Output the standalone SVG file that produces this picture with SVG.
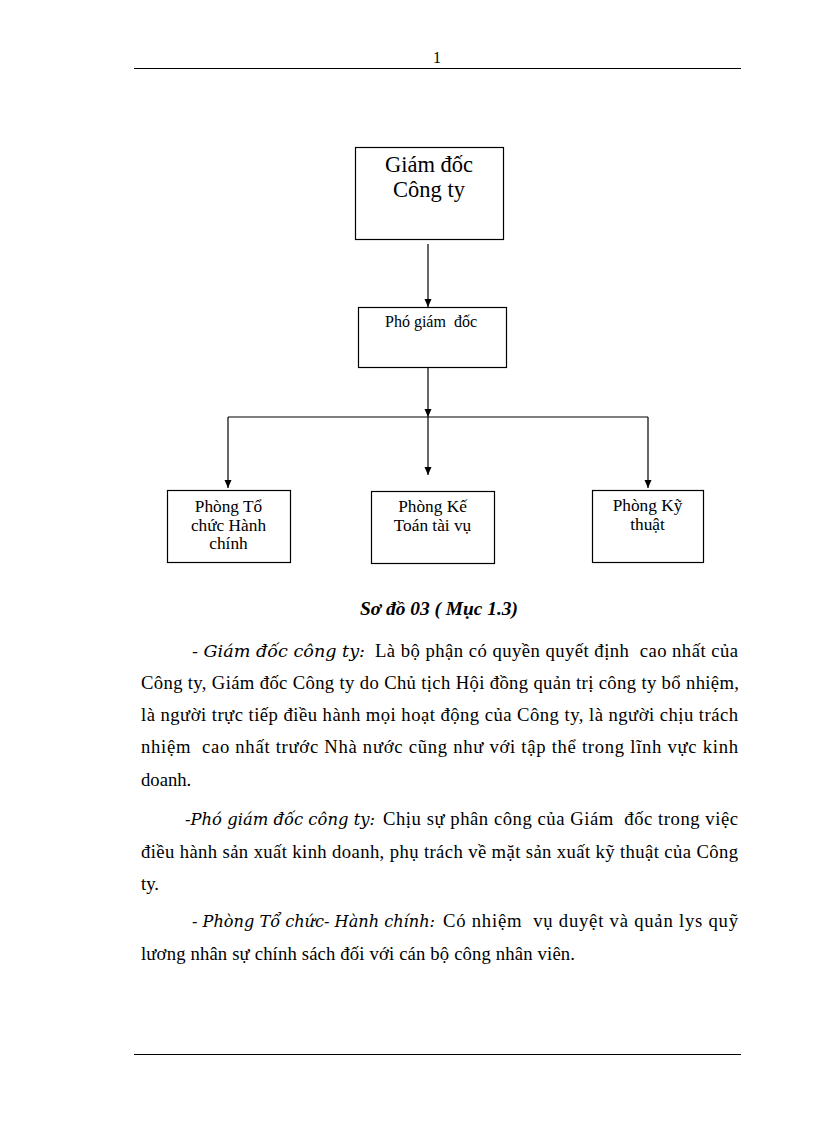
<svg xmlns="http://www.w3.org/2000/svg" width="816" height="1123" viewBox="0 0 816 1123">
<defs>
<style>
.bg{fill:#fff}
.rule{stroke:#000;stroke-width:1;fill:none}
.box{fill:#fff;stroke:#000;stroke-width:1.2}
.conn{stroke:#000;stroke-width:1.2;fill:none}
.serif{font-family:"Liberation Serif","Times New Roman","DejaVu Serif",serif;fill:#000}
.ser-it{font-family:"DejaVu Serif","Liberation Serif",serif;font-style:italic;fill:#000}
.big{font-size:22.5px;text-anchor:middle}
.mid{font-size:16px;text-anchor:middle;white-space:pre}
.dept{font-size:17.3px;text-anchor:middle}
.body{font-size:18.67px;white-space:pre}
.it{font-size:16px;white-space:pre}
.cap{font-size:18.67px;font-weight:bold;font-style:italic}
</style>
<marker id="ah" viewBox="0 0 8 8" refX="8" refY="4" markerWidth="8" markerHeight="8" markerUnits="userSpaceOnUse" orient="auto">
<path d="M0,0.5 L8,4 L0,7.5 z" fill="#000"/>
</marker>
</defs>
<rect class="bg" x="0" y="0" width="816" height="1123"/>

<g id="header">
<text class="serif" x="437" y="63" font-size="16" text-anchor="middle">1</text>
<line class="rule" x1="134" y1="68.5" x2="741" y2="68.5"/>
</g>

<g id="connectors">
<path class="conn" d="M428,244 V307" marker-end="url(#ah)"/>
<path class="conn" d="M428,368 V417" marker-end="url(#ah)"/>
<path class="conn" d="M428,417 V475" marker-end="url(#ah)"/>
<path class="conn" d="M228,417 H648"/>
<path class="conn" d="M228,417 V488" marker-end="url(#ah)"/>
<path class="conn" d="M648,417 V488" marker-end="url(#ah)"/>
</g>

<g id="giam-doc">
<rect class="box" x="355.5" y="147.5" width="148" height="92"/>
<text class="serif big" x="429" y="172">Giám đốc</text>
<text class="serif big" x="429" y="197">Công ty</text>
</g>

<g id="pho-giam-doc">
<rect class="box" x="358.5" y="307.5" width="148" height="60"/>
<text class="serif mid" x="431" y="327">Phó giám  đốc</text>
</g>

<g id="phong-to-chuc">
<rect class="box" x="167.5" y="490.5" width="123" height="72"/>
<text class="serif dept" x="228.5" y="512">Phòng Tổ</text>
<text class="serif dept" x="228.5" y="530.5">chức Hành</text>
<text class="serif dept" x="228.5" y="549">chính</text>
</g>

<g id="phong-ke-toan">
<rect class="box" x="371.5" y="491.5" width="123" height="72"/>
<text class="serif dept" x="432.5" y="512">Phòng Kế</text>
<text class="serif dept" x="432.5" y="531">Toán tài vụ</text>
</g>

<g id="phong-ky-thuat">
<rect class="box" x="592.5" y="490.5" width="111" height="72"/>
<text class="serif dept" x="647.5" y="511">Phòng Kỹ</text>
<text class="serif dept" x="647.5" y="530">thuật</text>
</g>

<g id="caption">
<text class="serif cap" x="360" y="615" textLength="158" lengthAdjust="spacingAndGlyphs">Sơ đồ 03 ( Mục 1.3)</text>
</g>

<g id="body">
<text class="ser-it it" x="192" y="657" textLength="173" lengthAdjust="spacingAndGlyphs">- Giám đốc công ty:</text>
<text class="serif body" x="375" y="657" textLength="363" lengthAdjust="spacing">Là bộ phận có quyền quyết định  cao nhất của</text>
<text class="serif body" x="141" y="689" textLength="598" lengthAdjust="spacing">Công ty, Giám đốc Công ty do Chủ tịch Hội đồng quản trị công ty bổ nhiệm,</text>
<text class="serif body" x="141" y="721" textLength="597" lengthAdjust="spacing">là người trực tiếp điều hành mọi hoạt động của Công ty, là người chịu trách</text>
<text class="serif body" x="141" y="753" textLength="597" lengthAdjust="spacing">nhiệm  cao nhất trước Nhà nước cũng như với tập thể trong lĩnh vực kinh</text>
<text class="serif body" x="141" y="786">doanh.</text>

<text class="ser-it it" x="185" y="825" textLength="190" lengthAdjust="spacingAndGlyphs">-Phó giám đốc công ty:</text>
<text class="serif body" x="383" y="825" textLength="355" lengthAdjust="spacing">Chịu sự phân công của Giám  đốc trong việc</text>
<text class="serif body" x="141" y="858" textLength="597" lengthAdjust="spacing">điều hành sản xuất kinh doanh, phụ trách về mặt sản xuất kỹ thuật của Công</text>
<text class="serif body" x="141" y="890">ty.</text>

<text class="ser-it it" x="192" y="927" textLength="243" lengthAdjust="spacingAndGlyphs">- Phòng Tổ chức- Hành chính:</text>
<text class="serif body" x="443" y="927" textLength="295" lengthAdjust="spacing">Có nhiệm  vụ duyệt và quản lys quỹ</text>
<text class="serif body" x="141" y="960" textLength="434" lengthAdjust="spacing">lương nhân sự chính sách đối với cán bộ công nhân viên.</text>
</g>

<g id="footer">
<line class="rule" x1="134" y1="1054.5" x2="741" y2="1054.5"/>
</g>
</svg>
